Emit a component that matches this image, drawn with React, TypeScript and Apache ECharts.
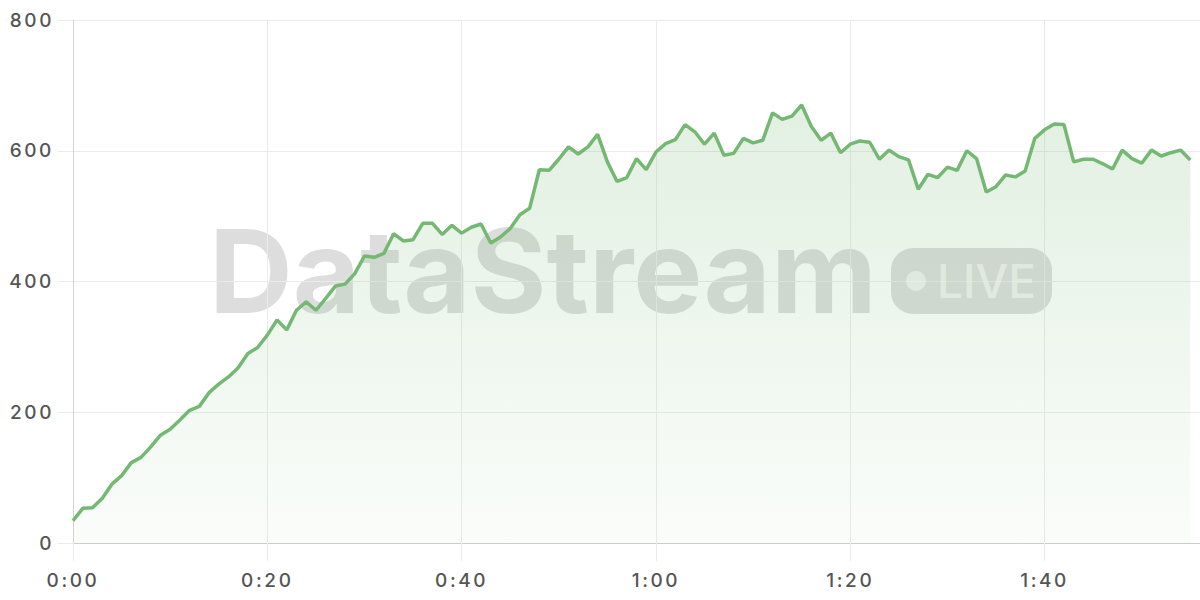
import React, { useEffect, useRef } from "react";
import * as echarts from "echarts";

// Sample values, one per second (t = 0 … 115 s)
const valuesT0 = [34, 53, 54, 68, 90, 103, 123, 131, 147, 165];
const valuesT10 = [174, 188, 203, 209, 230, 243, 254, 268, 290, 299];
const valuesT20 = [318, 341, 326, 356, 369, 356, 374, 393, 396, 412];
const valuesT30 = [439, 437, 443, 473, 462, 464, 489, 489, 472, 486];
const valuesT40 = [474, 483, 488, 459, 468, 481, 502, 512, 571, 570];
const valuesT50 = [587, 606, 595, 606, 625, 583, 553, 559, 588, 571];
const valuesT60 = [598, 611, 617, 640, 629, 610, 627, 593, 596, 619];
const valuesT70 = [612, 616, 658, 648, 653, 670, 637, 616, 627, 597];
const valuesT80 = [610, 615, 613, 587, 601, 591, 586, 541, 564, 559];
const valuesT90 = [575, 570, 600, 588, 537, 545, 563, 560, 569, 619];
const valuesT100 = [632, 641, 640, 583, 587, 587, 580, 572, 601, 588];
const valuesT110 = [581, 601, 592, 597, 601, 586];

const values = [
  ...valuesT0, ...valuesT10, ...valuesT20, ...valuesT30, ...valuesT40, ...valuesT50,
  ...valuesT60, ...valuesT70, ...valuesT80, ...valuesT90, ...valuesT100, ...valuesT110,
];

const xTickLabels = ["0:00", "0:20", "0:40", "1:00", "1:20", "1:40"];
const xTickStep = 20;
const yTickLabels = ["0", "200", "400", "600", "800"];

const GREEN = "#74b874";
const GRID = "#ebebeb";
const LABEL = "#555555";
const FONT = "Inter";

export default function App() {
  const ref = useRef<HTMLDivElement>(null);

  useEffect(() => {
    if (!ref.current) return;
    const chart = echarts.init(ref.current, undefined, { renderer: "svg" });
    const data = values.map((v, i) => [i, v]);

    chart.setOption({
      animation: false,
      backgroundColor: "#ffffff",
      grid: { left: 73, right: 0, top: 20, bottom: 57, containLabel: false },
      xAxis: {
        type: "value",
        min: 0,
        max: 116,
        interval: xTickStep,
        axisLine: { show: true, lineStyle: { color: "#cccccc", width: 1 } },
        axisTick: { show: true, length: 18, lineStyle: { color: GRID } },
        splitLine: { show: true, lineStyle: { color: GRID, width: 1 } },
        axisLabel: {
          margin: 28,
          fontSize: 19,
          fontWeight: 500,
          fontFamily: FONT,
          color: LABEL,
          showMaxLabel: false,
          formatter: (v: number) =>
            v % xTickStep === 0 ? xTickLabels[v / xTickStep] ?? "" : "",
        },
      },
      yAxis: {
        type: "value",
        min: 0,
        max: 800,
        interval: 200,
        axisLine: { show: true, lineStyle: { color: "#d4d4d4", width: 1 } },
        axisTick: { show: true, length: 15, lineStyle: { color: GRID } },
        splitLine: { show: true, lineStyle: { color: GRID, width: 1 } },
        axisLabel: {
          margin: 19,
          fontSize: 19,
          fontWeight: 500,
          fontFamily: FONT,
          color: LABEL,
          formatter: (v: number) => yTickLabels[v / 200] ?? "",
        },
      },
      graphic: [
        {
          type: "text",
          x: 209,
          y: 271,
          z: 0,
          style: {
            text: "DataStream",
            font: "700 116px Inter",
            fill: "rgba(0,0,0,0.135)",
            verticalAlign: "middle",
            align: "left",
          },
        },
        {
          type: "rect",
          z: 0,
          shape: { x: 891, y: 248, width: 161, height: 66, r: 22 },
          style: { fill: "rgba(0,0,0,0.135)" },
        },
        {
          type: "circle",
          z: 1,
          shape: { cx: 916, cy: 281, r: 10 },
          style: { fill: "rgba(255,255,255,0.6)" },
        },
        {
          type: "text",
          x: 937,
          y: 281,
          z: 1,
          style: {
            text: "LIVE",
            font: "500 46px Inter",
            fill: "rgba(255,255,255,0.6)",
            verticalAlign: "middle",
            align: "left",
          },
        },
      ],
      series: [
        {
          type: "line",
          data,
          showSymbol: false,
          symbol: "none",
          z: 3,
          lineStyle: { color: GREEN, width: 3.5 },
          itemStyle: { color: GREEN },
          areaStyle: {
            color: new echarts.graphic.LinearGradient(0, 0, 0, 1, [
              { offset: 0, color: "rgba(116,184,116,0.3)" },
              { offset: 1, color: "rgba(116,184,116,0.05)" },
            ]),
          },
        },
      ],
    });

    return () => chart.dispose();
  }, []);

  return (
    <>
      <style>{`.ds-chart text[style*="19px"] { letter-spacing: 2.6px; }`}</style>
      <div
        ref={ref}
        className="ds-chart"
        style={{ position: "fixed", left: 0, top: 0, width: 1200, height: 600 }}
      />
    </>
  );
}
